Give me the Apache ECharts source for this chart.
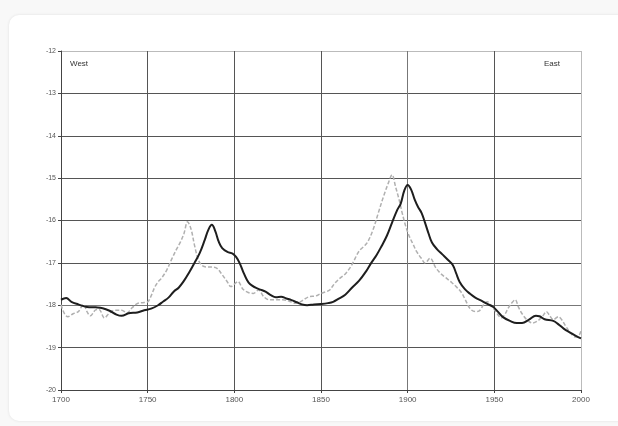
<!DOCTYPE html>
<html>
<head>
<meta charset="utf-8">
<script src="https://cdn.jsdelivr.net/npm/echarts@6/dist/echarts.min.js"></script>
<style type="text/css">
  * {
    margin: 0;
    padding: 0;
  }
  body {
    width: 618px;
    height: 426px;
    background: #f8f8f8;
    position: relative;
    overflow: hidden;
  }
  #card {
    position: absolute;
    left: 9px;
    top: 15px;
    width: 640px;
    height: 406px;
    background: #fff;
    border-radius: 10px;
    box-shadow: 0 0 3px rgba(0, 0, 0, 0.1);
  }
</style>
</head>
<body>
<div id="card"></div>
<div id="main" style="position: absolute;left: 0;top: 0;width: 618px;height: 426px;"></div>
<script type="text/javascript">
  // solid black curve
  var blackYears = [1700, 1703, 1706, 1710, 1715, 1720, 1724, 1728, 1732, 1735, 1739, 1744, 1748, 1752, 1756,
    1759, 1762, 1765, 1768, 1771, 1774, 1777, 1780, 1783, 1785, 1787, 1789, 1791, 1793, 1796, 1799,
    1801, 1803, 1805, 1807, 1809, 1812, 1815, 1818, 1821, 1824, 1827, 1830, 1833, 1836, 1839, 1842,
    1846, 1850, 1854, 1857, 1860, 1864, 1868, 1872, 1876, 1879, 1882, 1885, 1888, 1891, 1894, 1896,
    1898, 1900, 1902, 1904, 1906, 1908, 1910, 1912, 1914, 1917, 1920, 1923, 1926, 1928, 1930, 1933,
    1936, 1939, 1943, 1946, 1949, 1952, 1955, 1959, 1963, 1966, 1970, 1974, 1976, 1979, 1984, 1987,
    1990, 1994, 1997, 2000]
  var blackValues = [-17.87, -17.83, -17.92, -17.98, -18.04, -18.05, -18.07, -18.13, -18.22, -18.25, -18.19, -18.17, -18.12, -18.08, -18.0,
    -17.91, -17.82, -17.68, -17.58, -17.42, -17.22, -17.0, -16.77, -16.45, -16.22, -16.1, -16.25, -16.5, -16.65, -16.74, -16.78,
    -16.86, -17.0, -17.2, -17.38, -17.5, -17.58, -17.63, -17.68, -17.76, -17.81, -17.8, -17.84, -17.88, -17.93, -17.98, -18.0,
    -17.98, -17.97, -17.95, -17.92, -17.85, -17.75, -17.58, -17.42, -17.2, -17.0, -16.82, -16.6, -16.36, -16.05, -15.75, -15.6,
    -15.3, -15.16, -15.27, -15.5, -15.68, -15.82, -16.05, -16.3, -16.52, -16.68, -16.8, -16.92, -17.05, -17.25, -17.45, -17.62,
    -17.73, -17.82, -17.9, -17.97, -18.03, -18.15, -18.28, -18.37, -18.42, -18.42, -18.34, -18.25, -18.26, -18.33, -18.37, -18.45,
    -18.55, -18.65, -18.72, -18.78]

  // dashed grey curve
  var greyYears = [1700, 1702, 1704, 1707, 1710, 1713, 1715, 1717, 1720, 1722, 1725, 1728, 1731, 1735, 1738, 1741,
    1744, 1747, 1750, 1752, 1754, 1756, 1758, 1761, 1764, 1767, 1769, 1771, 1773, 1775, 1777, 1779,
    1781, 1784, 1787, 1790, 1793, 1796, 1798, 1800, 1802, 1805, 1808, 1811, 1814, 1817, 1820, 1824,
    1828, 1832, 1835, 1838, 1840, 1843, 1847, 1850, 1853, 1855, 1858, 1861, 1864, 1867, 1869, 1872,
    1875, 1877, 1880, 1883, 1886, 1889, 1891, 1893, 1895, 1897, 1899, 1901, 1903, 1905, 1908, 1910,
    1913, 1916, 1919, 1922, 1925, 1928, 1931, 1933, 1936, 1939, 1941, 1944, 1946, 1948, 1950, 1952,
    1954, 1956, 1958, 1960, 1962, 1964, 1966, 1969, 1972, 1975, 1978, 1980, 1982, 1984, 1987, 1989,
    1991, 1994, 1997, 1999, 2000]
  var greyValues = [-17.99, -18.2, -18.27, -18.2, -18.15, -17.98, -18.15, -18.25, -18.11, -18.1, -18.3, -18.18, -18.12, -18.12, -18.18, -18.06,
    -17.96, -17.94, -17.92, -17.78, -17.58, -17.45, -17.36, -17.17, -16.9, -16.65, -16.5, -16.3, -16.03, -16.2, -16.58, -16.9,
    -17.05, -17.1, -17.1, -17.13, -17.28, -17.45, -17.56, -17.5, -17.44, -17.62, -17.7, -17.72, -17.64, -17.8, -17.87, -17.87,
    -17.87, -17.91, -17.95, -17.92, -17.87, -17.8, -17.78, -17.72, -17.68, -17.64, -17.48, -17.36, -17.26, -17.1, -16.95, -16.72,
    -16.6, -16.5, -16.22, -15.83, -15.44, -15.1, -14.92, -15.2, -15.5, -15.85, -16.15, -16.38, -16.55, -16.72, -16.9, -17.0,
    -16.89, -17.1, -17.25, -17.35, -17.45, -17.56, -17.7, -17.85, -18.08, -18.15, -18.14, -17.98, -17.92, -18.0, -18.1, -18.22,
    -18.3, -18.22, -18.07, -17.95, -17.87, -18.05, -18.2, -18.35, -18.42, -18.37, -18.25, -18.15, -18.25, -18.34, -18.27, -18.35,
    -18.48, -18.66, -18.75, -18.7, -18.6]

  var yearTicks = [1700, 1750, 1800, 1850, 1900, 1950, 2000]
  var valueTicks = [-20, -19, -18, -17, -16, -15, -14, -13, -12]

  function pairs(xs, ys) {
    return xs.map(function (x, i) {
      return [x, ys[i]]
    })
  }

  var myChart = echarts.init(document.getElementById('main'))
  myChart.setOption({
    animation: false,
    textStyle: {fontFamily: 'Liberation Sans, Arial, sans-serif'},
    grid: {left: 61, right: 37, top: 51, bottom: 36},
    xAxis: {
      type: 'value',
      min: yearTicks[0],
      max: yearTicks[yearTicks.length - 1],
      interval: 50,
      axisLine: {lineStyle: {color: '#444', width: 1}},
      axisTick: {show: true, length: 3, lineStyle: {color: '#444'}},
      axisLabel: {
        color: '#555', fontSize: 8, margin: 6,
        formatter: function (v) {
          return String(v)
        }
      },
      splitLine: {
        show: true,
        lineStyle: {color: ['#555', '#555', '#555', '#555', '#777', '#555', '#bbb'], width: 1}
      }
    },
    yAxis: {
      type: 'value',
      min: valueTicks[0],
      max: valueTicks[valueTicks.length - 1],
      interval: 1,
      axisLine: {show: true, lineStyle: {color: '#444', width: 1}},
      axisTick: {show: true, length: 3, lineStyle: {color: '#444'}},
      axisLabel: {color: '#555', fontSize: 7, margin: 5},
      splitLine: {
        show: true,
        lineStyle: {color: ['#555', '#555', '#777', '#555', '#555', '#555', '#555', '#555', '#bbb'], width: 1}
      }
    },
    graphic: [
      {type: 'text', left: 70, top: 60, style: {text: 'West', fontSize: 8, fill: '#333', fontFamily: 'Liberation Sans, Arial'}},
      {type: 'text', left: 544, top: 60, style: {text: 'East', fontSize: 8, fill: '#333', fontFamily: 'Liberation Sans, Arial'}}
    ],
    series: [
      {
        name: 'grey',
        type: 'line',
        data: pairs(greyYears, greyValues),
        smooth: 0.35,
        showSymbol: false,
        z: 3,
        lineStyle: {color: '#b0b0b0', width: 1.5, type: [4, 2]}
      },
      {
        name: 'black',
        type: 'line',
        data: pairs(blackYears, blackValues),
        smooth: 0.4,
        showSymbol: false,
        z: 4,
        lineStyle: {color: '#1e1e1e', width: 2}
      }
    ]
  })
</script>
</body>
</html>
